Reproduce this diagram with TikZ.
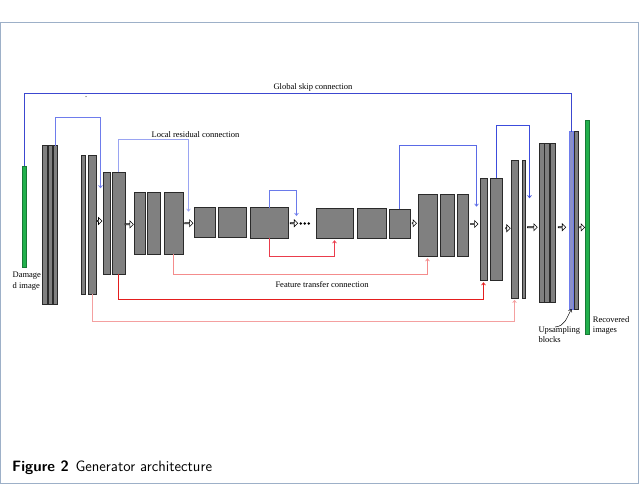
\documentclass[tikz,border=0pt]{standalone}
\usepackage{fontspec}
\newfontfamily\lblfont{Liberation Serif}
\usetikzlibrary{arrows.meta,shapes.arrows}
\definecolor{framec}{HTML}{9DB0C8}
\definecolor{blkfill}{HTML}{808080}
\definecolor{blkline}{HTML}{2A2A2A}
\definecolor{greenf}{HTML}{22B04C}
\definecolor{greenl}{HTML}{187A36}
\definecolor{colglobal}{HTML}{3C48D0}
\definecolor{colbluea}{HTML}{6E7CEC}
\definecolor{colblueb}{HTML}{9AA4F2}
\definecolor{colbluec}{HTML}{6A7AEA}
\definecolor{colblued}{HTML}{5A6AE6}
\definecolor{colbluee}{HTML}{3C4CDC}
\definecolor{colreda}{HTML}{EA3C4C}
\definecolor{colredb}{HTML}{F48C8C}
\definecolor{colredc}{HTML}{E41E1E}
\definecolor{colredd}{HTML}{F4A0A0}
\definecolor{kfill}{HTML}{8A90C8}
\newcommand\mkblk[6][]{%
  \pgfmathsetmacro\blkw{#5-#3}%
  \pgfmathsetmacro\blkh{#6-#4}%
  \node[blk,#1,minimum width=\blkw pt,minimum height=\blkh pt] (#2) at ({(#3+#5)/2},{(#4+#6)/2}) {};}
\begin{document}
\begin{tikzpicture}[x=1pt,y=-1pt,
  blk/.style={draw=blkline,fill=blkfill,line width=0.7pt,inner sep=0pt,outer sep=0pt,rectangle},
  greenbar/.style={draw=greenl,fill=greenf,line width=0.4pt},
  bluebar/.style={draw=colbluea,fill=kfill,line width=0.9pt},
  lbl/.style={font=\lblfont\fontsize{8.5}{10.5}\selectfont,inner sep=0pt},
  lbll/.style={lbl,align=left,anchor=north west},
  conn/.style={line width=1.4pt},
  tipv/.style={-{Straight Barb[length=2.4pt,width=3.8pt,line width=0.7pt]}},
  harrow/.style={single arrow,draw=black,fill=white,line width=0.55pt,minimum width=7pt,
     single arrow head extend=1.4pt,inner sep=0pt,outer sep=0pt}]
\useasboundingbox (0,0) rectangle (640,485);
\draw[framec,line width=1pt] (0.5,22) rectangle (638.5,483.5);
% blocks
\mkblk[greenbar]{g1}{22.5}{166}{26.5}{266.7}
\mkblk{t1}{42.7}{145.7}{47.5}{304}
\mkblk{t2}{48}{145.7}{52.8}{304}
\mkblk{t3}{53.3}{145.7}{57.7}{304}
\mkblk{a1}{81}{155}{85}{294.3}
\mkblk{a2}{88.5}{155}{96.5}{294.3}
\mkblk{b1}{103.3}{172.3}{110}{274.3}
\mkblk{b2}{112}{172.3}{125}{274.3}
\mkblk{c1}{134}{192.3}{145}{254.3}
\mkblk{c2}{147.3}{192.3}{160.7}{254.3}
\mkblk{c3}{164}{192.3}{183}{254.3}
\mkblk{d1}{194.3}{207.7}{215.7}{237.7}
\mkblk{d2}{218.3}{207.7}{246.7}{237.7}
\mkblk{d3}{250.5}{207.7}{288.5}{238.3}
\mkblk{e1}{316}{208.3}{353}{238.7}
\mkblk{e2}{357.3}{208.3}{386}{238.7}
\mkblk{e3}{389}{209.3}{410}{238.7}
\mkblk{f1}{418}{194.3}{437}{256.7}
\mkblk{f2}{440}{194.3}{454.3}{256.7}
\mkblk{f3}{457.3}{194.3}{468.7}{256.7}
\mkblk{h1}{480}{178.3}{487}{280.7}
\mkblk{h2}{490.5}{178.3}{502.5}{280.7}
\mkblk{i1}{511}{160}{518}{298.3}
\mkblk{i2}{522}{160}{525.7}{298.3}
\mkblk{j1}{539}{143.3}{544}{302.7}
\mkblk{j2}{544.5}{143.3}{549.5}{302.7}
\mkblk{j3}{550}{143.3}{555}{302.7}
\mkblk[bluebar]{k1}{569.5}{131.7}{573.5}{309}
\mkblk{k2}{574.7}{131.7}{578}{309}
\mkblk[greenbar]{g2}{585}{120}{589.3}{334}
% hollow arrows
\node[harrow,minimum height=5pt] (p1) at (99.2,221) {};
\node[harrow,minimum height=8.5pt] (p2) at (128.8,224.3) {};
\node[harrow,minimum height=8.5pt] (p3) at (188.5,223.3) {};
\node[harrow,minimum height=7.5pt] (p4) at (293.7,223.3) {};
\node[harrow,minimum height=4.5pt] (p5) at (414,223.3) {};
\node[harrow,minimum height=7.5pt] (p6) at (474,224) {};
\node[harrow,minimum height=4.5pt] (p7) at (507.7,228.3) {};
\node[harrow,minimum height=10pt] (p8) at (532,227.3) {};
\node[harrow,minimum height=7.5pt] (p9) at (561.7,227.3) {};
\node[harrow,minimum height=5pt] (p10) at (581.8,227.3) {};
\fill (300.8,223.5) circle (1.4) (304.8,223.5) circle (1.4) (308.8,223.5) circle (1.4);
\fill (86,96.5) circle (0.5);
% end points
\coordinate (v2) at (100.5,188.3);
\coordinate (v3) at (188.5,211.7);
\coordinate (v4) at (296.5,216);
\coordinate (v5) at (476.5,206.7);
\coordinate (v6) at (529.5,198.3);
% blue connections
\draw[conn,colglobal] (g1.north) -- ++(0,-72.5) -| (k1.north);
\draw[conn,colbluea,tipv] (t3.north) -- ++(0,-28.2) -| (v2);
\draw[conn,colblueb,tipv] (b2.north) -- ++(0,-32.8) -| (v3);
\draw[conn,colbluec,tipv] (d3.north) -- ++(0,-17.2) -| (v4);
\draw[conn,colblued,tipv] (e3.north) -- ++(0,-63.8) -| (v5);
\draw[conn,colbluee,tipv] (h2.north) -- ++(0,-52.8) -| (v6);
% red connections
\draw[conn,colreda,tipv,shorten >=1.5pt] (d3.south) -- ++(0,18.2) -| (e1.south);
\draw[conn,colredb,tipv,shorten >=1.5pt] (c3.south) -- ++(0,20.2) -| (f1.south);
\draw[conn,colredc,tipv,shorten >=1.5pt] (b2.south) -- ++(0,25.2) -| (h1.south);
\draw[conn,colredd,tipv,shorten >=1.5pt] (a2.south) -- ++(0,27.2) -| (i1.south);
% labels
\node[lbl] (lg) at (313,87) {Global skip connection};
\node[lbl] (ll) at (195.5,135) {Local residual connection};
\node[lbl] (lf) at (322,284.3) {Feature transfer connection};
\node[lbll] (ld) at (12.5,272) {Damage\\d image};
\node[lbll] (lu) at (538.3,326) {Upsampling\\blocks};
\node[lbll] (lr) at (592.7,316) {Recovered\\images};
\coordinate (ua) at (555,327);
\draw[line width=0.5pt,-{Straight Barb[length=2.5pt,width=4pt]}] (ua) .. controls (565,326) and (566,319) .. (k1.south);
% caption
\node[anchor=base west,inner sep=0pt,font=\sffamily\fontsize{15}{17}\selectfont] (cap) at (12,471)
  {\textbf{Figure 2}\hspace{0.45em}Generator architecture};
\end{tikzpicture}
\end{document}
